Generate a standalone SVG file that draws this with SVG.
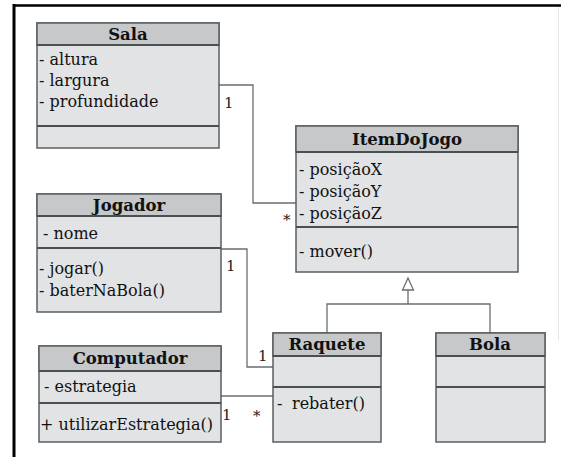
<svg xmlns="http://www.w3.org/2000/svg" width="561" height="457" viewBox="0 0 561 457">
<style>
.body{fill:#e1e3e4;stroke:#5a5f62;stroke-width:1.5}
.head{fill:#c6c8c9;stroke:#5a5f62;stroke-width:1.5}
.sep{stroke:#4a4f52;stroke-width:2}
.t{font-family:"DejaVu Serif","Liberation Serif",serif;font-size:16px;fill:#111}
.h{font-family:"DejaVu Serif","Liberation Serif",serif;font-size:16.5px;font-weight:bold;fill:#111;text-anchor:middle}
.c{fill:none;stroke:#6a6e70;stroke-width:1.3}
.m{font-family:"DejaVu Serif","Liberation Serif",serif;font-size:15px;fill:#222}
</style>
<rect width="561" height="457" fill="#ffffff"/>
<g id="frame">
<line x1="14" y1="4" x2="14" y2="457" stroke="#000" stroke-width="3"/>
<line x1="13" y1="5.5" x2="561" y2="5.5" stroke="#000" stroke-width="2.5"/>
<line x1="558.5" y1="7" x2="558.5" y2="340" stroke="#e6e6e6" stroke-width="1"/>
</g>
<g id="connectors">
<polyline class="c" points="219,85 253,85 253,203 296,203"/>
<polyline class="c" points="221,249 247,249 247,367 273,367"/>
<polyline class="c" points="221,396 273,396"/>
<polyline class="c" points="327,333 327,304 490,304 490,333"/>
<line class="c" x1="408" y1="304" x2="408" y2="290"/>
<polygon points="408,278 402.5,290 413.5,290" fill="#fff" stroke="#6a6e70" stroke-width="1.3"/>
<text class="m" x="224" y="108">1</text>
<text class="m" x="283" y="225">*</text>
<text class="m" x="226" y="271">1</text>
<text class="m" x="258" y="361">1</text>
<text class="m" x="222" y="420">1</text>
<text class="m" x="253" y="421">*</text>
</g>
<g id="Sala">
<rect class="body" x="37" y="23" width="182" height="125"/>
<rect class="head" x="37" y="23" width="182" height="22"/>
<line class="sep" x1="37" y1="45" x2="219" y2="45"/>
<line class="sep" x1="37" y1="126" x2="219" y2="126"/>
<text class="h" x="128" y="40">Sala</text>
<text class="t" x="39" y="65">- altura</text>
<text class="t" x="39" y="86">- largura</text>
<text class="t" x="39" y="107">- profundidade</text>
</g>
<g id="ItemDoJogo">
<rect class="body" x="296" y="126" width="222" height="146"/>
<rect class="head" x="296" y="126" width="222" height="26"/>
<line class="sep" x1="296" y1="152" x2="518" y2="152"/>
<line class="sep" x1="296" y1="227" x2="518" y2="227"/>
<text class="h" x="407" y="145">ItemDoJogo</text>
<text class="t" x="299" y="175">- posiçãoX</text>
<text class="t" x="299" y="197">- posiçãoY</text>
<text class="t" x="299" y="219">- posiçãoZ</text>
<text class="t" x="299" y="257">- mover()</text>
</g>
<g id="Jogador">
<rect class="body" x="37" y="194" width="184" height="118"/>
<rect class="head" x="37" y="194" width="184" height="22"/>
<line class="sep" x1="37" y1="216" x2="221" y2="216"/>
<line class="sep" x1="37" y1="248" x2="221" y2="248"/>
<text class="h" x="129" y="211">Jogador</text>
<text class="t" x="43" y="239">- nome</text>
<text class="t" x="39" y="274">- jogar()</text>
<text class="t" x="39" y="296">- baterNaBola()</text>
</g>
<g id="Computador">
<rect class="body" x="39" y="346" width="182" height="96"/>
<rect class="head" x="39" y="346" width="182" height="25"/>
<line class="sep" x1="39" y1="371" x2="221" y2="371"/>
<line class="sep" x1="39" y1="403" x2="221" y2="403"/>
<text class="h" x="130" y="364">Computador</text>
<text class="t" x="44" y="392">- estrategia</text>
<text class="t" x="40" y="430">+ utilizarEstrategia()</text>
</g>
<g id="Raquete">
<rect class="body" x="273" y="333" width="108" height="109"/>
<rect class="head" x="273" y="333" width="108" height="23"/>
<line class="sep" x1="273" y1="356" x2="381" y2="356"/>
<line class="sep" x1="273" y1="387" x2="381" y2="387"/>
<text class="h" x="327" y="350">Raquete</text>
<text class="t" x="277" y="409">-<tspan x="292">rebater()</tspan></text>
</g>
<g id="Bola">
<rect class="body" x="436" y="333" width="109" height="109"/>
<rect class="head" x="436" y="333" width="109" height="23"/>
<line class="sep" x1="436" y1="356" x2="545" y2="356"/>
<line class="sep" x1="436" y1="387" x2="545" y2="387"/>
<text class="h" x="490" y="350">Bola</text>
</g>
</svg>
